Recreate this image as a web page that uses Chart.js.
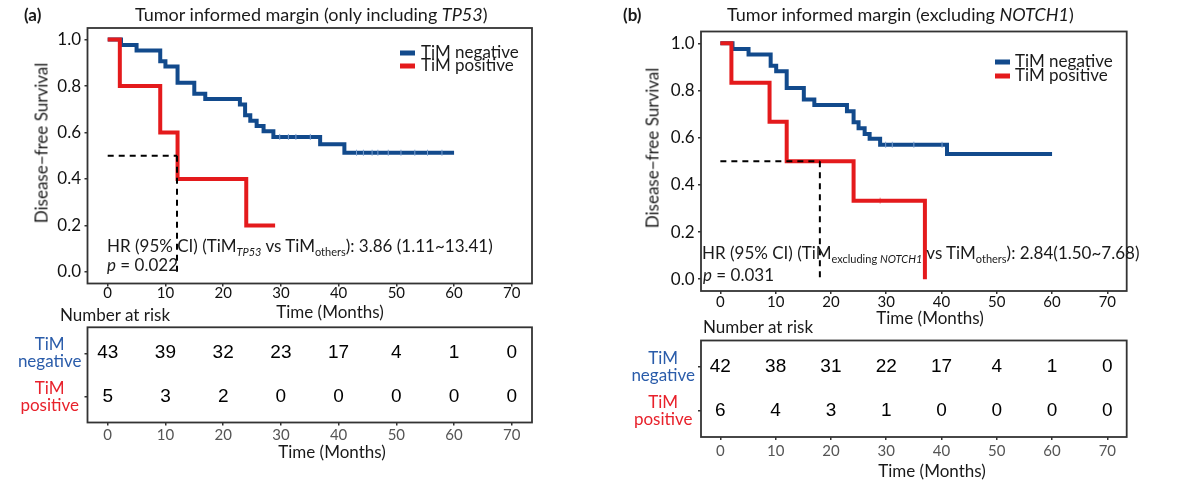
<!DOCTYPE html>
<html>
<head>
<meta charset="utf-8">
<script src="https://cdn.jsdelivr.net/npm/chart.js@4.4.1/dist/chart.umd.min.js"></script>
<style>
  body { margin: 0; background: #fff; }
  #page { position: relative; width: 1180px; height: 492px; overflow: hidden; font-family: Lato, sans-serif; color: #1a1a1a; }
  canvas { position: absolute; }
  .t { position: absolute; white-space: nowrap; line-height: 1; transform: translateY(-50%); }
  .c { position: absolute; white-space: nowrap; line-height: 1; transform: translate(-50%, -50%); }
  .r { position: absolute; white-space: nowrap; line-height: 1; transform: translate(-50%, -50%) rotate(-90deg); }
  .key { position: absolute; width: 15px; height: 5px; transform: translateY(-50%); }
  sub { font-size: 11px; vertical-align: -4px; line-height: 0; }
</style>
</head>
<body>
<div id="page">
  <canvas id="kmA" width="560" height="330" style="left:0;top:0"></canvas>
  <canvas id="riskA" width="560" height="155" style="left:0;top:305px"></canvas>
  <canvas id="kmB" width="590" height="340" style="left:590px;top:0"></canvas>
  <canvas id="riskB" width="590" height="162" style="left:590px;top:318px"></canvas>

  <div class="t" style="left:24px;top:14px;font-weight:bold;font-size:17px">(a)</div>
  <div class="t" style="left:135px;top:14px;font-size:18px">Tumor informed margin (only including <i>TP53</i>)</div>
  <div class="r" style="left:41px;top:143px;font-size:17px">Disease−free Survival</div>
  <div class="key" style="left:400px;top:53px;background:#124a8c"></div>
  <div class="key" style="left:400px;top:66px;background:#e41a1c"></div>
  <div class="t" style="left:421px;top:51px;font-size:17px">TiM negative</div>
  <div class="t" style="left:421px;top:64px;font-size:17px">TiM positive</div>
  <div class="t" style="left:107px;top:245px;font-size:17px">HR (95% CI) (TiM<sub><i>TP53</i></sub> vs TiM<sub>others</sub>): 3.86 (1.11~13.41)</div>
  <div class="t" style="left:107px;top:264px;font-size:17px"><i>p</i> = 0.022</div>
  <div class="c" style="left:330px;top:311px;font-size:17px">Time (Months)</div>
  <div class="t" style="left:60px;top:314px;font-size:17px">Number at risk</div>
  <div class="c" style="left:332px;top:451px;font-size:17px">Time (Months)</div>

  <div class="t" style="left:623px;top:14px;font-weight:bold;font-size:17px">(b)</div>
  <div class="t" style="left:727px;top:14px;font-size:18px">Tumor informed margin (excluding <i>NOTCH1</i>)</div>
  <div class="r" style="left:652px;top:148px;font-size:17px">Disease−free Survival</div>
  <div class="key" style="left:995px;top:62px;background:#124a8c"></div>
  <div class="key" style="left:995px;top:76px;background:#e41a1c"></div>
  <div class="t" style="left:1015px;top:60px;font-size:17px">TiM negative</div>
  <div class="t" style="left:1015px;top:74px;font-size:17px">TiM positive</div>
  <div class="t" style="left:702px;top:252px;font-size:17px">HR (95% CI) (TiM<sub>excluding <i>NOTCH1</i></sub> vs TiM<sub>others</sub>): 2.84(1.50~7.68)</div>
  <div class="t" style="left:703px;top:274px;font-size:17px"><i>p</i> = 0.031</div>
  <div class="c" style="left:930px;top:317px;font-size:17px">Time (Months)</div>
  <div class="t" style="left:703px;top:326px;font-size:17px">Number at risk</div>
  <div class="c" style="left:932px;top:470px;font-size:17px">Time (Months)</div>
</div>

<script>
// axis ticks
const xTicks = [0, 10, 20, 30, 40, 50, 60, 70];
const yTicks = [0, 0.2, 0.4, 0.6, 0.8, 1.0];
const riskTimes = [0, 10, 20, 30, 40, 50, 60, 70];
const rowLabels = [["TiM", "negative"], ["TiM", "positive"]];

// (a) only including TP53
const negTimesA = [0, 2.3, 5, 9.1, 10, 12.1, 15, 16.9, 22.9, 23.8, 24.7, 25.8, 27, 28.7, 36.8, 41, 60];
const negSurvA = [1, 0.977, 0.953, 0.907, 0.884, 0.814, 0.767, 0.744, 0.721, 0.674, 0.651, 0.628, 0.605, 0.581, 0.55, 0.513, 0.513];
const negCensorTimesA = [29.8, 31.3, 32.6, 35.1, 43.1, 44.3, 45.8, 46.8, 48.6, 50.8, 53.2, 55.4, 57.9];
const negCensorSurvA = [0.581, 0.581, 0.581, 0.581, 0.513, 0.513, 0.513, 0.513, 0.513, 0.513, 0.513, 0.513, 0.513];
const posTimesA = [0, 2.1, 9.1, 12.1, 24, 29];
const posSurvA = [1, 0.8, 0.6, 0.4, 0.2, 0.2];
const medianA = 12;
const riskNegA = [43, 39, 32, 23, 17, 4, 1, 0];
const riskPosA = [5, 3, 2, 0, 0, 0, 0, 0];

// (b) excluding NOTCH1
const negTimesB = [0, 2.2, 5.1, 9.1, 10.1, 12, 15.1, 17, 22.9, 24.1, 25, 26.1, 27, 28.9, 41, 60];
const negSurvB = [1, 0.976, 0.952, 0.905, 0.881, 0.81, 0.762, 0.738, 0.712, 0.665, 0.64, 0.616, 0.595, 0.57, 0.531, 0.531];
const negCensorTimesB = [29.9, 31.1, 35, 40.1];
const negCensorSurvB = [0.57, 0.57, 0.57, 0.57];
const posTimesB = [0, 2, 8.9, 12, 24.1, 37];
const posSurvB = [1, 0.833, 0.667, 0.5, 0.333, 0];
const posCensorTimesB = [28.9];
const posCensorSurvB = [0.333];
const medianB = 18;
const riskNegB = [42, 38, 31, 22, 17, 4, 1, 0];
const riskPosB = [6, 4, 3, 1, 0, 0, 0, 0];

const BLUE = "#124a8c";
const RED = "#e41a1c";
const FONT = "Lato, sans-serif";

const toPoints = (xs, ys) => xs.map((x, i) => ({ x: x, y: ys[i] }));

// rectangle round the plot panel
const panelBox = {
    id: "panelBox",
    afterDraw(chart) {
        const a = chart.chartArea;
        const ctx = chart.ctx;
        ctx.save();
        ctx.strokeStyle = "#333";
        ctx.lineWidth = 1.8;
        ctx.strokeRect(a.left, a.top, a.right - a.left, a.bottom - a.top);
        ctx.restore();
    }
};

// numbers inside the risk table
const riskNumbers = {
    id: "riskNumbers",
    afterDatasetsDraw(chart) {
        const ctx = chart.ctx;
        ctx.save();
        ctx.font = "19px 'Liberation Sans', Arial, sans-serif";
        ctx.fillStyle = "#000";
        ctx.textAlign = "center";
        ctx.textBaseline = "middle";
        chart.data.datasets.forEach((ds, di) => {
            chart.getDatasetMeta(di).data.forEach((pt, i) => {
                ctx.fillText(String(ds.counts[i]), pt.x, pt.y);
            });
        });
        ctx.restore();
    }
};

function xAxis(height, pad, color) {
    return {
        type: "linear",
        min: -3.5,
        max: 73.5,
        afterBuildTicks: s => { s.ticks = xTicks.map(v => ({ value: v })); },
        afterFit: s => { s.height = height; },
        grid: { drawOnChartArea: false, drawTicks: true, tickLength: 3, color: "#333", lineWidth: 1.5 },
        border: { display: false },
        ticks: { color: color, font: { family: FONT, size: 15 }, padding: pad, maxRotation: 0 }
    };
}

function createKmChart(id, opt) {
    const datasets = [
        { data: [{ x: 0, y: 0.5 }, { x: opt.median, y: 0.5 }], borderColor: "#000", borderWidth: 2, borderDash: [6, 5] },
        { data: [{ x: opt.median, y: 0.5 }, { x: opt.median, y: 0 }], borderColor: "#000", borderWidth: 2, borderDash: [6, 5] },
        { data: toPoints(opt.posT, opt.posS), borderColor: RED, borderWidth: 4, stepped: "before" },
        { data: toPoints(opt.posCT || [], opt.posCS || []), showLine: false, pointStyle: "line", rotation: 90,
          pointRadius: 3, pointBorderWidth: 1, pointBorderColor: "#f08080" },
        { data: toPoints(opt.negCT, opt.negCS), showLine: false, pointStyle: "line", rotation: 90,
          pointRadius: 3, pointBorderWidth: 1, pointBorderColor: "#7a9fd0" },
        { data: toPoints(opt.negT, opt.negS), borderColor: BLUE, borderWidth: 4, stepped: "before" }
    ];
    datasets.forEach(d => {
        d.fill = false;
        if (d.pointRadius === undefined) d.pointRadius = 0;
        d.borderCapStyle = "butt";
        d.borderJoinStyle = "miter";
    });

    new Chart(document.getElementById(id), {
        type: "line",
        data: { datasets: datasets },
        options: {
            responsive: false,
            animation: false,
            layout: { padding: opt.padding },
            plugins: { legend: { display: false }, tooltip: { enabled: false } },
            scales: {
                x: xAxis(opt.xHeight, opt.xPad, "#111"),
                y: {
                    type: "linear",
                    min: -0.05,
                    max: 1.05,
                    afterBuildTicks: s => { s.ticks = yTicks.map(v => ({ value: v })); },
                    afterFit: s => { s.width = opt.yWidth; },
                    grid: { drawOnChartArea: false, drawTicks: true, tickLength: 3, color: "#333", lineWidth: 1.5 },
                    border: { display: false },
                    ticks: { callback: v => v.toFixed(1), color: "#111", font: { family: FONT, size: 17 }, padding: 3.5 }
                }
            }
        },
        plugins: [panelBox]
    });
}

function createRiskTable(id, opt) {
    new Chart(document.getElementById(id), {
        type: "scatter",
        data: {
            datasets: [
                { data: riskTimes.map(t => ({ x: t, y: 1 })), counts: opt.neg, pointRadius: 0 },
                { data: riskTimes.map(t => ({ x: t, y: 2 })), counts: opt.pos, pointRadius: 0 }
            ]
        },
        options: {
            responsive: false,
            animation: false,
            layout: { padding: opt.padding },
            plugins: { legend: { display: false }, tooltip: { enabled: false } },
            scales: {
                x: xAxis(opt.xHeight, opt.xPad, "#555"),
                y: {
                    type: "linear",
                    min: 0.4,
                    max: 2.6,
                    reverse: true,
                    afterBuildTicks: s => { s.ticks = [1, 2].map(v => ({ value: v })); },
                    afterFit: s => { s.width = opt.yWidth; },
                    grid: { drawOnChartArea: false, drawTicks: true, tickLength: 3, color: "#333", lineWidth: 1.5 },
                    border: { display: false },
                    ticks: {
                        callback: v => rowLabels[v - 1],
                        color: c => (c.tick && c.tick.value === 1) ? "#2a5caa" : "#e8212b",
                        font: { family: FONT, size: 17, lineHeight: 1.0 },
                        crossAlign: "center",
                        padding: 3
                    }
                }
            }
        },
        plugins: [panelBox, riskNumbers]
    });
}

createKmChart("kmA", {
    negT: negTimesA, negS: negSurvA, negCT: negCensorTimesA, negCS: negCensorSurvA,
    posT: posTimesA, posS: posSurvA, median: medianA,
    padding: { top: 28, right: 28, left: 0, bottom: 0 }, yWidth: 87.5, xHeight: 46.5, xPad: -2
});
createKmChart("kmB", {
    negT: negTimesB, negS: negSurvB, negCT: negCensorTimesB, negCS: negCensorSurvB,
    posT: posTimesB, posS: posSurvB, posCT: posCensorTimesB, posCS: posCensorSurvB, median: medianB,
    padding: { top: 31.5, right: 53.3, left: 0, bottom: 0 }, yWidth: 111, xHeight: 49, xPad: -1
});
createRiskTable("riskA", {
    neg: riskNegA, pos: riskPosA,
    padding: { top: 22.3, right: 28, left: 0, bottom: 0 }, yWidth: 87.5, xHeight: 37.5, xPad: 0.5
});
createRiskTable("riskB", {
    neg: riskNegB, pos: riskPosB,
    padding: { top: 22.5, right: 53.3, left: 0, bottom: 0 }, yWidth: 111, xHeight: 43, xPad: 2.5
});
</script>
</body>
</html>
